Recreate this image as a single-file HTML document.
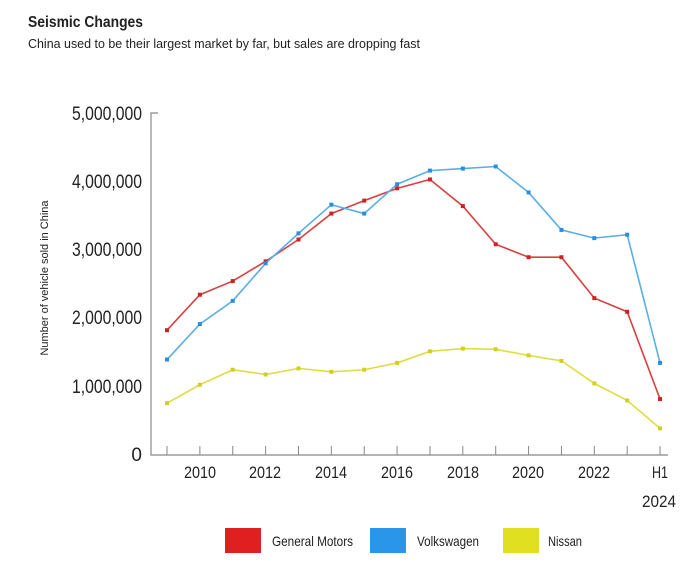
<!DOCTYPE html>
<html><head><meta charset="utf-8"><style>
body{margin:0;background:#fff;width:684px;height:566px;overflow:hidden}
svg text{font-family:"Liberation Sans Narrow","Liberation Sans",sans-serif;fill:#222}
</style></head><body>
<svg width="684" height="566" xmlns="http://www.w3.org/2000/svg">
<text x="28" y="27" font-size="16" font-weight="bold" textLength="115" lengthAdjust="spacingAndGlyphs">Seismic Changes</text>
<text x="28" y="48" font-size="13" fill="#333" textLength="392" lengthAdjust="spacingAndGlyphs">China used to be their largest market by far, but sales are dropping fast</text>
<g font-size="19" text-anchor="end">
<text x="142" y="120" textLength="70" lengthAdjust="spacingAndGlyphs">5,000,000</text>
<text x="142" y="188" textLength="70" lengthAdjust="spacingAndGlyphs">4,000,000</text>
<text x="142" y="256" textLength="70" lengthAdjust="spacingAndGlyphs">3,000,000</text>
<text x="142" y="324" textLength="70" lengthAdjust="spacingAndGlyphs">2,000,000</text>
<text x="142" y="393" textLength="70" lengthAdjust="spacingAndGlyphs">1,000,000</text>
<text x="142" y="461">0</text>
</g>
<text transform="translate(48,278) rotate(-90)" font-size="11" text-anchor="middle" textLength="155" lengthAdjust="spacingAndGlyphs">Number of vehicle sold in China</text>
<path d="M158,113H151V455H668" fill="none" stroke="#888" stroke-width="1.2"/>
<g id="ticks" stroke="#888" stroke-width="1"></g>
<g font-size="17" text-anchor="middle">
<text x="200" y="478" textLength="32" lengthAdjust="spacingAndGlyphs">2010</text><text x="265" y="478" textLength="32" lengthAdjust="spacingAndGlyphs">2012</text><text x="331" y="478" textLength="32" lengthAdjust="spacingAndGlyphs">2014</text>
<text x="397" y="478" textLength="32" lengthAdjust="spacingAndGlyphs">2016</text><text x="463" y="478" textLength="32" lengthAdjust="spacingAndGlyphs">2018</text><text x="528" y="478" textLength="32" lengthAdjust="spacingAndGlyphs">2020</text>
<text x="594" y="478" textLength="32" lengthAdjust="spacingAndGlyphs">2022</text><text x="660" y="478" textLength="16" lengthAdjust="spacingAndGlyphs">H1</text><text x="659" y="507" textLength="34" lengthAdjust="spacingAndGlyphs">2024</text>
</g>
<g id="series"></g>
<rect x="225" y="528" width="36" height="25" fill="#e02020"/>
<text x="272" y="546" font-size="14" textLength="81" lengthAdjust="spacingAndGlyphs">General Motors</text>
<rect x="370" y="528" width="36" height="25" fill="#2a96ea"/>
<text x="417" y="546" font-size="14" textLength="62" lengthAdjust="spacingAndGlyphs">Volkswagen</text>
<rect x="503" y="528" width="36" height="25" fill="#e0e020"/>
<text x="548" y="546" font-size="14" textLength="34" lengthAdjust="spacingAndGlyphs">Nissan</text>
</svg>
<script>
var X=i=>167+i*32.87,Y=v=>455-v*68.2,ns="http://www.w3.org/2000/svg";
var t=document.getElementById('ticks');
for(var i=0;i<16;i++){var l=document.createElementNS(ns,'line');l.setAttribute('x1',X(i));l.setAttribute('x2',X(i));l.setAttribute('y1',446);l.setAttribute('y2',455);t.appendChild(l);}
var S=[["#d84040",[1.83,2.35,2.55,2.84,3.16,3.54,3.73,3.91,4.04,3.65,3.09,2.90,2.90,2.30,2.10,0.82],"#d02020"],
["#5aaee8",[1.40,1.92,2.26,2.81,3.25,3.67,3.54,3.97,4.17,4.20,4.23,3.85,3.30,3.18,3.23,1.35],"#2a8ee0"],
["#dede40",[0.76,1.03,1.25,1.18,1.27,1.22,1.25,1.35,1.52,1.56,1.55,1.46,1.38,1.05,0.80,0.39],"#d0d020"]];
var g=document.getElementById('series');
S.forEach(s=>{var p=document.createElementNS(ns,'polyline');p.setAttribute('points',s[1].map((v,i)=>X(i)+','+Y(v)).join(' '));p.setAttribute('fill','none');p.setAttribute('stroke',s[0]);p.setAttribute('stroke-width','1.6');g.appendChild(p);
s[1].forEach((v,i)=>{var r=document.createElementNS(ns,'rect');r.setAttribute('x',X(i)-2);r.setAttribute('y',Y(v)-2);r.setAttribute('width',4);r.setAttribute('height',4);r.setAttribute('fill',s[2]);g.appendChild(r);});});
</script>
</body></html>
